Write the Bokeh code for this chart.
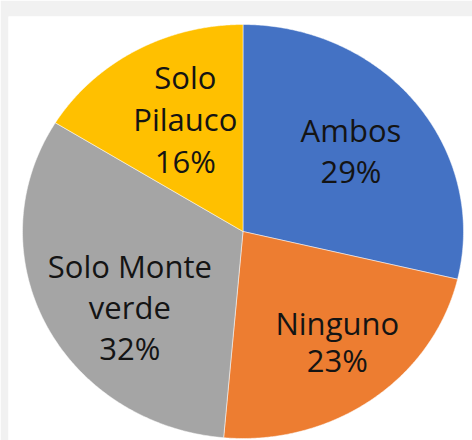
import numpy as np
from bokeh.plotting import figure
from bokeh.models import Range1d, ColumnDataSource
from bokeh.core.properties import value
from bokeh.embed import file_html
from bokeh.resources import INLINE

# ---- data ----
categories = ["Ambos", "Ninguno", "Solo Monte verde", "Solo Pilauco"]
shares = [28.7, 22.7, 32.4, 16.2]
label_wrap = [["Ambos"], ["Ninguno"], ["Solo Monte", "verde"], ["Solo", "Pilauco"]]
colors = ["#4472C4", "#ED7D31", "#A5A5A5", "#FFC000"]

# ---- layout (pixels) ----
W, H = 472, 440
TOP, LEFT = 16, 8
FW, FH = W - LEFT, H - TOP
CX, CY = 234.5, 215.0      # pie centre inside the frame (from left / top)
RX, RY = 220.5, 207.0      # pie radii (slightly stretched horizontally)
LABEL_R = 0.63
label_nudge = [(-1, 0), (13, 4), (11, 17), (10, 1)]   # screen px
line_sp = [41, 37, 41, 42]

p = figure(width=W, height=H, output_backend="svg", toolbar_location=None,
           x_range=Range1d(-CX / RX, (FW - CX) / RX),
           y_range=Range1d(-(FH - CY) / RY, CY / RY),
           min_border_left=LEFT, min_border_right=0, min_border_bottom=0,
           min_border_top=TOP)
p.axis.visible = False
p.xgrid.visible = False
p.ygrid.visible = False
p.outline_line_color = None
p.border_fill_color = "#f1f1f1"
p.background_fill_color = "white"

total = float(sum(shares))
fr = np.array(shares) / total
ends = np.cumsum(fr) * 2 * np.pi
starts = ends - fr * 2 * np.pi

xs, ys = [], []
for a0, a1 in zip(starts, ends):
    t = np.linspace(a0, a1, 200)
    xs.append(np.concatenate([[0], np.sin(t), [0]]).tolist())
    ys.append(np.concatenate([[0], np.cos(t), [0]]).tolist())

p.patches(xs, ys, fill_color=colors, line_color="white", line_width=0.5)

lx, ly, lt, lxo, lyo = [], [], [], [], []
for i, (lines, f) in enumerate(zip(label_wrap, fr)):
    mid = (starts[i] + ends[i]) / 2
    all_lines = list(lines) + [f"{round(f * 100)}%"]
    n = len(all_lines)
    for j, s in enumerate(all_lines):
        lx.append(LABEL_R * np.sin(mid))
        ly.append(LABEL_R * np.cos(mid))
        lt.append(s)
        lxo.append(label_nudge[i][0])
        lyo.append(label_nudge[i][1] + (j - (n - 1) / 2) * line_sp[i])

src = ColumnDataSource(dict(x=lx, y=ly, text=lt, xo=lxo, yo=lyo))
p.text(x="x", y="y", text="text", x_offset="xo", y_offset="yo", source=src,
       text_font=value("Open Sans"), text_font_size="31px", text_color="#141414",
       text_align="center", text_baseline="middle")

open("out.html", "w").write(file_html(p, INLINE))
